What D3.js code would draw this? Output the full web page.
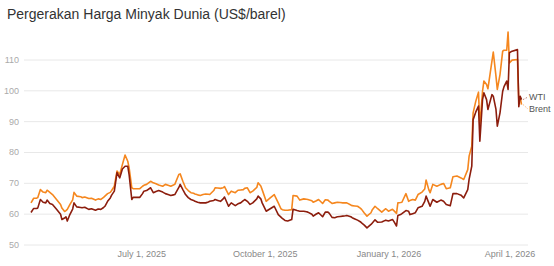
<!DOCTYPE html>
<html><head><meta charset="utf-8">
<script src="https://cdn.jsdelivr.net/npm/d3@7"></script>
<style>body{margin:0;background:#fff}svg{display:block}text{font-family:"Liberation Sans",Arial,sans-serif}</style>
</head><body><div id="chart"></div>
<script>
const dates = ["2025-04-10","2025-04-12","2025-04-14","2025-04-15","2025-04-17","2025-04-19","2025-04-21","2025-04-22","2025-04-24","2025-04-26","2025-04-29","2025-05-02","2025-05-03","2025-05-05","2025-05-06","2025-05-07","2025-05-09","2025-05-11","2025-05-12","2025-05-14","2025-05-17","2025-05-18","2025-05-20","2025-05-23","2025-05-25","2025-05-28","2025-05-30","2025-06-01","2025-06-03","2025-06-04","2025-06-06","2025-06-08","2025-06-09","2025-06-11","2025-06-13","2025-06-15","2025-06-17","2025-06-19","2025-06-21","2025-06-22","2025-06-24","2025-06-25","2025-06-27","2025-06-30","2025-07-02","2025-07-03","2025-07-05","2025-07-08","2025-07-10","2025-07-12","2025-07-14","2025-07-17","2025-07-19","2025-07-21","2025-07-23","2025-07-25","2025-07-26","2025-07-29","2025-07-30","2025-08-01","2025-08-03","2025-08-05","2025-08-07","2025-08-09","2025-08-10","2025-08-12","2025-08-14","2025-08-16","2025-08-18","2025-08-20","2025-08-21","2025-08-24","2025-08-25","2025-08-27","2025-08-29","2025-08-31","2025-09-01","2025-09-04","2025-09-06","2025-09-09","2025-09-11","2025-09-13","2025-09-15","2025-09-16","2025-09-18","2025-09-20","2025-09-22","2025-09-25","2025-09-26","2025-09-28","2025-09-29","2025-10-02","2025-10-05","2025-10-08","2025-10-11","2025-10-13","2025-10-14","2025-10-16","2025-10-18","2025-10-21","2025-10-22","2025-10-25","2025-10-27","2025-10-30","2025-11-01","2025-11-02","2025-11-05","2025-11-06","2025-11-08","2025-11-10","2025-11-13","2025-11-15","2025-11-17","2025-11-18","2025-11-20","2025-11-22","2025-11-24","2025-11-26","2025-11-28","2025-11-30","2025-12-01","2025-12-04","2025-12-05","2025-12-07","2025-12-09","2025-12-11","2025-12-12","2025-12-14","2025-12-16","2025-12-19","2025-12-20","2025-12-22","2025-12-24","2025-12-27","2025-12-30","2026-01-01","2026-01-04","2026-01-05","2026-01-07","2026-01-08","2026-01-10","2026-01-11","2026-01-14","2026-01-16","2026-01-17","2026-01-19","2026-01-21","2026-01-23","2026-01-26","2026-01-28","2026-01-29","2026-01-31","2026-02-01","2026-02-03","2026-02-06","2026-02-09","2026-02-11","2026-02-13","2026-02-16","2026-02-18","2026-02-21","2026-02-24","2026-02-26","2026-03-01","2026-03-02","2026-03-04","2026-03-05","2026-03-07","2026-03-09","2026-03-10","2026-03-12","2026-03-13","2026-03-15","2026-03-16","2026-03-19","2026-03-20","2026-03-22","2026-03-23","2026-03-25","2026-03-27","2026-03-28","2026-03-30","2026-03-31","2026-04-01","2026-04-03","2026-04-07","2026-04-08","2026-04-09","2026-04-10"];
const brent = [63.5,65,65,65.2,67.8,67,66.8,67.6,66.9,66.2,64.6,63,61.8,60.7,61,61.4,63,64.5,66.9,65.7,65.5,65.2,65.4,64.9,65,64.4,64.8,64.6,65.3,65.7,66.5,66.9,67.5,68.9,73.8,72.7,75.9,79,77,74.9,68.4,68.1,68.1,68.1,68.9,69.2,69.5,70.5,70,69.7,69.3,68.9,69.5,69.2,68.9,69.3,69.5,72.7,72.9,70.5,68.4,67.5,66.8,66.6,66.4,66.1,65.9,66.2,66.4,66.3,66.2,67.5,68.4,68.3,68.2,68.4,68.8,66.2,67.3,66.8,67.6,67.7,67.8,68.2,68.4,66.8,67.3,68.5,70,69,67.8,64,65.1,66.2,63.5,61.6,61.3,61.1,61.1,61.3,65.9,65.7,64.4,64.8,64.7,64.6,64.2,63.7,64.1,64.6,63.3,64.5,64.4,64,63.3,63.5,63.7,63.6,63.5,63.5,63.5,62.8,62.6,62.5,62.4,61.8,61.4,60.2,59.2,60.3,61.3,62.4,61.6,60.5,61.6,60.8,61.4,61,60.1,63.5,63.6,63.7,66.5,64,64.3,64.6,64.4,66.2,67,68,70.9,67.8,66.8,69.5,68.9,69.5,69.8,68.1,68.4,72,72.2,71.6,71.1,74.3,78.6,81.9,92.7,96.5,99.4,88.4,99.7,103,101.9,100.5,109.5,112.4,104.6,100.3,105.1,112.7,113,113,118.9,108.9,109.8,110,96.5,98,95.4];
const wti = [60.4,61.7,61.7,61.8,64.6,63.7,63.5,64.4,63.3,63,61.4,59.8,58.1,58.6,59,57.6,59.8,61.5,63.5,62.2,62,61.9,62.1,61.4,61.6,61.1,61.5,61.4,62,62.4,64,65.1,66,67.3,73.3,71.6,74.5,75.4,75.4,72.7,64.6,65.3,65.3,65.3,66.5,67.3,67.5,68.4,66.8,67.2,67.5,67,66.5,66.2,65.9,66.1,66.2,68.5,69.5,67.8,66.2,65.2,64.6,64.3,64,63.7,63.5,63.5,63.5,63.8,64,64.3,64.6,64.3,64,64.8,65.4,62.4,63.5,62.6,63.2,63.5,64.2,64.6,64,63,63.5,64.8,65.7,64.8,63.5,60.8,61.6,62.4,59.7,58.9,58.5,57.8,57.6,58.1,61.4,61,60.8,60.8,60.6,60.5,59.8,59.2,59.8,60.3,59,60.5,60.5,60.1,58.8,58.7,59,59.1,59.2,59.3,59.4,59,58.7,58.3,57.9,57.4,57,56.3,55.4,56.5,57,58,57.2,57.3,57.9,57.6,58.1,57.5,56,59.4,59.7,60,61,60.8,59.7,60,60.3,61.9,62.4,64,65.7,63.5,62.4,64.6,63.7,64.4,64,63,62.6,66.5,66.5,66,65.1,67.8,71.1,75.4,90.5,93,94.9,83.5,97,99.2,97,93.8,98.6,98.1,93.8,88.4,92.7,99.7,101.2,103,100.3,112.2,112.7,113.2,94.7,98.1,97];
const yTicks = [50,60,70,80,90,100,110];
const xTicks = ["2025-07-01","2025-10-01","2026-01-01","2026-04-01"];
const seriesNames = ["Brent","WTI"];
const colors = {Brent:"#f5871f", WTI:"#8c1d0d"};

const W = 554, H = 266;
const parse = d3.timeParse("%Y-%m-%d");
const fmt = d3.timeFormat("%B %-d, %Y");
const svg = d3.select("#chart").append("svg").attr("width", W).attr("height", H);

const x = d3.scaleTime().domain(d3.extent(dates, parse)).range([31, 521.5]);
const y = d3.scaleLinear().domain([50, 110]).range([244.5, 59.5]);

svg.append("text").attr("x", 7).attr("y", 18.5).attr("font-size", 14).attr("fill", "#333")
  .text("Pergerakan Harga Minyak Dunia (US$/barel)");

const yAxis = svg.append("g").attr("transform", "translate(24,0)")
  .call(d3.axisLeft(y).tickValues(yTicks).tickSize(-504).tickPadding(5));
yAxis.select(".domain").remove();
yAxis.selectAll("line").attr("stroke", "#e8e8e8");
yAxis.selectAll("text").attr("fill", "#aaa").attr("font-size", 9).attr("font-family", "Liberation Sans, Arial, sans-serif");

const xAxis = svg.append("g").attr("transform", "translate(0,245)")
  .call(d3.axisBottom(x).tickValues(xTicks.map(parse)).tickFormat(fmt).tickSize(0).tickPadding(6));
xAxis.select(".domain").remove();
xAxis.selectAll("text").attr("fill", "#888").attr("font-size", 9).attr("font-family", "Liberation Sans, Arial, sans-serif");

const data = {Brent: brent, WTI: wti};
const line = d3.line().x((d, i) => x(parse(dates[i]))).y(d => y(d));
seriesNames.forEach(s => {
  svg.append("path").datum(data[s]).attr("d", line).attr("fill", "none")
    .attr("stroke", colors[s]).attr("stroke-width", 1.6).attr("stroke-linejoin", "round");
});

const lastX = x(parse(dates[dates.length - 1]));
const labels = [{s:"WTI", ly:97}, {s:"Brent", ly:109}];
labels.forEach(l => {
  const vy = y(data[l.s][data[l.s].length - 1]);
  svg.append("line").attr("x1", lastX + 1.5).attr("y1", vy).attr("x2", lastX + 6.5).attr("y2", l.ly)
    .attr("stroke", colors[l.s]).attr("stroke-width", 0.8).attr("stroke-dasharray", "1.5,1.5").attr("opacity", 0.7);
  svg.append("text").attr("x", lastX + 7.5).attr("y", l.ly).attr("dy", "0.35em")
    .attr("font-size", 9).attr("fill", "#555").text(l.s);
});
</script></body></html>
